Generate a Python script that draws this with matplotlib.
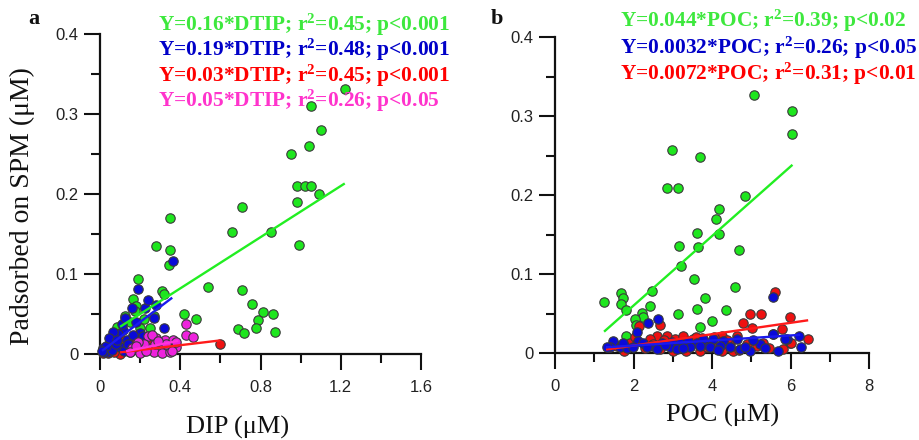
import matplotlib
matplotlib.use("Agg")
import matplotlib.pyplot as plt
from matplotlib.ticker import FixedLocator

plt.rcParams["mathtext.fontset"] = "custom"
plt.rcParams["mathtext.bf"] = "Liberation Serif:bold"
plt.rcParams["mathtext.rm"] = "Liberation Serif:bold"
plt.rcParams["mathtext.default"] = "bf"

# ---------------- Panel a: P adsorbed on SPM vs DIP ----------------
a_green_x = [1.22, 1.05, 1.10, 1.04, 0.95, 0.98, 1.02, 1.05, 1.09, 0.98, 0.71, 0.66,
             0.85, 0.99, 0.35, 0.28, 0.35, 0.344, 0.19, 0.31, 0.32, 0.54, 0.71, 0.163,
             0.76, 0.81, 0.86, 0.42, 0.48, 0.79, 0.78, 0.69, 0.72, 0.87, 0.18, 0.125,
             0.083, 0.15, 0.20, 0.25, 0.175, 0.22, 0.27]
a_green_y = [0.331, 0.310, 0.280, 0.260, 0.250, 0.210, 0.210, 0.210, 0.200, 0.190, 0.184, 0.152,
             0.152, 0.136, 0.170, 0.135, 0.130, 0.111, 0.094, 0.079, 0.075, 0.084, 0.080, 0.069,
             0.062, 0.053, 0.050, 0.050, 0.044, 0.042, 0.033, 0.031, 0.026, 0.027, 0.060, 0.047,
             0.034, 0.040, 0.033, 0.032, 0.054, 0.044, 0.047]

a_red_x = [0.60, 0.017, 0.10, 0.18, 0.15, 0.116, 0.04, 0.07, 0.13, 0.22, 0.25, 0.166]
a_red_y = [0.0125, 0.001, 0.000, 0.011, 0.003, 0.018, 0.001, 0.002, 0.006, 0.004, 0.015, 0.018]

a_blue_x = [0.362, 0.19, 0.158, 0.224, 0.28, 0.27, 0.32, 0.20, 0.116, 0.075, 0.05, 0.017,
            0.04, 0.10, 0.133, 0.166, 0.216, 0.02, 0.06, 0.08, 0.09, 0.12, 0.14, 0.03,
            0.01, 0.18, 0.24, 0.11, 0.065, 0.045, 0.085, 0.125]
a_blue_y = [0.116, 0.081, 0.057, 0.057, 0.061, 0.045, 0.033, 0.026, 0.030, 0.020, 0.013, 0.007,
            0.003, 0.009, 0.018, 0.024, 0.022, 0.002, 0.005, 0.012, 0.025, 0.004, 0.012, 0.010,
            0.004, 0.040, 0.068, 0.038, 0.028, 0.020, 0.017, 0.045]

a_mag_x = [0.24, 0.28, 0.324, 0.365, 0.21, 0.25, 0.30, 0.34, 0.38, 0.20, 0.27, 0.31,
           0.35, 0.22, 0.16, 0.19, 0.274, 0.33, 0.38, 0.43, 0.43, 0.465, 0.26, 0.15,
           0.23, 0.29, 0.36, 0.18]
a_mag_y = [0.022, 0.020, 0.018, 0.0175, 0.009, 0.007, 0.009, 0.008, 0.009, 0.001, 0.002, 0.001,
           0.003, 0.013, 0.007, 0.015, 0.013, 0.013, 0.015, 0.0375, 0.024, 0.021, 0.024, 0.003,
           0.004, 0.016, 0.004, 0.010]

# fitted lines: slope, intercept, x-range
a_fits = {
    "green": (0.16, 0.018, 0.10, 1.22),
    "blue": (0.19, 0.002, 0.01, 0.36),
    "red": (0.03, -0.001, 0.10, 0.60),
    "magenta": (0.05, -0.003, 0.13, 0.39),
}
a_labels = ["Y=0.16*DTIP; r$^2$=0.45; p<0.001",
            "Y=0.19*DTIP; r$^2$=0.48; p<0.001",
            "Y=0.03*DTIP; r$^2$=0.45; p<0.001",
            "Y=0.05*DTIP; r$^2$=0.26; p<0.05"]

# ---------------- Panel b: P adsorbed on SPM vs POC ----------------
b_green_x = [5.07, 6.05, 6.05, 2.99, 3.70, 2.85, 3.13, 4.85, 4.18, 4.10, 3.61, 4.18,
             3.17, 3.65, 4.68, 3.21, 2.46, 3.55, 4.59, 1.68, 1.72, 1.68, 1.81, 1.25,
             2.42, 3.82, 3.13, 3.61, 4.35, 2.21, 2.23, 2.04, 2.06, 3.99, 3.69, 1.81]
b_green_y = [0.327, 0.306, 0.2775, 0.2575, 0.2475, 0.209, 0.209, 0.199, 0.1825, 0.169, 0.152, 0.151,
             0.135, 0.134, 0.130, 0.110, 0.079, 0.094, 0.084, 0.076, 0.070, 0.0625, 0.054, 0.064,
             0.060, 0.070, 0.050, 0.056, 0.054, 0.051, 0.045, 0.0425, 0.035, 0.041, 0.033, 0.022]

b_red_x = [5.61, 2.15, 2.68, 2.59, 2.85, 3.06, 3.27, 3.52, 3.74, 3.95, 4.25, 4.46,
           4.80, 4.97, 5.24, 5.01, 4.88, 4.54, 4.25, 5.78, 5.56, 5.99, 5.99, 6.44,
           2.68, 3.01, 3.35, 3.69, 2.42, 1.91, 1.57, 3.86, 4.63, 5.31, 5.14, 6.01,
           2.30, 2.95, 3.45, 4.10, 4.70, 5.45, 5.80, 1.75, 2.50, 3.15, 3.60, 4.05,
           4.38, 2.05, 2.78, 3.30]
b_red_y = [0.077, 0.034, 0.036, 0.022, 0.022, 0.0175, 0.022, 0.0175, 0.0195, 0.013, 0.022, 0.011,
           0.038, 0.049, 0.050, 0.032, 0.011, 0.003, 0.003, 0.030, 0.024, 0.045, 0.013, 0.0175,
           0.005, 0.003, 0.003, 0.003, 0.0175, 0.013, 0.009, 0.007, 0.022, 0.013, 0.009, 0.0125,
           0.006, 0.010, 0.009, 0.006, 0.004, 0.006, 0.005, 0.003, 0.012, 0.012, 0.020, 0.020,
           0.016, 0.020, 0.016, 0.008]

b_blue_x = [5.55, 1.49, 1.40, 1.66, 1.83, 2.08, 2.12, 2.38, 2.63, 1.99, 2.25, 2.46,
            2.72, 2.97, 3.18, 3.40, 3.61, 3.82, 4.03, 4.29, 4.63, 4.97, 5.22, 5.56,
            5.69, 5.90, 6.22, 6.26, 2.93, 2.59, 3.44, 3.95, 4.46, 4.71, 2.34, 1.74,
            3.10, 3.78, 4.20, 1.33, 5.86, 5.35, 2.80, 3.25, 3.70, 4.15, 4.85, 5.05]
b_blue_y = [0.071, 0.015, 0.007, 0.007, 0.006, 0.026, 0.015, 0.038, 0.0425, 0.007, 0.013, 0.009,
            0.013, 0.014, 0.013, 0.015, 0.013, 0.011, 0.0175, 0.015, 0.0175, 0.003, 0.011, 0.024,
            0.003, 0.0175, 0.021, 0.008, 0.007, 0.005, 0.007, 0.007, 0.007, 0.005, 0.007, 0.013,
            0.005, 0.0175, 0.009, 0.008, 0.0175, 0.006, 0.010, 0.006, 0.009, 0.004, 0.008, 0.016]

b_fits = {
    "green": (0.044, -0.028, 1.25, 6.05),
    "red": (0.0072, -0.005, 1.30, 6.45),
    "blue": (0.0032, 0.003, 1.30, 6.25),
}
b_labels = ["Y=0.044*POC; r$^2$=0.39; p<0.02",
            "Y=0.0032*POC; r$^2$=0.26; p<0.05",
            "Y=0.0072*POC; r$^2$=0.31; p<0.01"]

# ---------------- styling ----------------
FILL = {"green": "#1ee61e", "blue": "#0a0ad8", "red": "#ee1111", "magenta": "#ee22dd"}
LINE = {"green": "#22ee22", "blue": "#1a1aee", "red": "#ff1a1a", "magenta": "#ff33dd"}
TEXT = {"green": "#3de83d", "blue": "#0000c8", "red": "#ff0000", "magenta": "#ff33cc"}
SANS = "Liberation Sans"
SERIF = "Liberation Serif"

W, H = 919, 440
fig = plt.figure(figsize=(W / 100, H / 100), dpi=100)


def px_axes(x0, y_bottom, x1, y_top):
    return fig.add_axes([x0 / W, 1 - y_bottom / H, (x1 - x0) / W, (y_bottom - y_top) / H])


def style_axes(ax, xmajor, xlabels, xminor, ymajor, ylabels, yminor):
    for s in ("top", "right"):
        ax.spines[s].set_visible(False)
    for s in ("left", "bottom"):
        ax.spines[s].set_linewidth(1.6)
        ax.spines[s].set_color("#111111")
    ax.xaxis.set_major_locator(FixedLocator(xmajor))
    ax.xaxis.set_minor_locator(FixedLocator(xminor))
    ax.yaxis.set_major_locator(FixedLocator(ymajor))
    ax.yaxis.set_minor_locator(FixedLocator(yminor))
    ax.set_xticklabels(xlabels, fontfamily=SANS, fontsize=12, color="#222222")
    ax.set_yticklabels(ylabels, fontfamily=SANS, fontsize=12, color="#222222")
    ax.tick_params(axis="both", which="major", direction="out", length=11.5, width=1.5,
                   color="#111111")
    ax.tick_params(axis="both", which="minor", direction="out", length=6.5, width=1.5,
                   color="#111111")
    ax.tick_params(axis="x", which="major", pad=7)
    ax.tick_params(axis="y", which="major", pad=4)


def scatter(ax, xs, ys, key, z):
    ax.scatter(xs, ys, s=46, c=FILL[key], edgecolors="#3a3a3a", linewidths=0.8,
               zorder=z, clip_on=False)


def fit_line(ax, key, fit):
    k, b, x0, x1 = fit
    ax.plot([x0, x1], [k * x0 + b, k * x1 + b], color=LINE[key], lw=1.7, zorder=10,
            solid_capstyle="butt", clip_on=False)


# panel a
axa = px_axes(100, 354, 421, 34)
axa.set_xlim(0, 1.6)
axa.set_ylim(0, 0.4)
style_axes(axa, [0, 0.4, 0.8, 1.2, 1.6], ["0", "0.4", "0.8", "1.2", "1.6"],
           [0.2, 0.6, 1.0, 1.4],
           [0, 0.1, 0.2, 0.3, 0.4], ["0", "0.1", "0.2", "0.3", "0.4"],
           [0.05, 0.15, 0.25, 0.35])
scatter(axa, a_green_x, a_green_y, "green", 3)
scatter(axa, a_red_x, a_red_y, "red", 4)
scatter(axa, a_blue_x, a_blue_y, "blue", 5)
scatter(axa, a_mag_x, a_mag_y, "magenta", 6)
for key in ("green", "blue", "red", "magenta"):
    fit_line(axa, key, a_fits[key])

# panel b
axb = px_axes(555, 353, 869, 37)
axb.set_xlim(0, 8)
axb.set_ylim(0, 0.4)
style_axes(axb, [0, 2, 4, 6, 8], ["0", "2", "4", "6", "8"], [1, 3, 5, 7],
           [0, 0.1, 0.2, 0.3, 0.4], ["0", "0.1", "0.2", "0.3", "0.4"],
           [0.05, 0.15, 0.25, 0.35])
scatter(axb, b_green_x, b_green_y, "green", 3)
scatter(axb, b_red_x, b_red_y, "red", 4)
scatter(axb, b_blue_x, b_blue_y, "blue", 5)
for key in ("green", "red", "blue"):
    fit_line(axb, key, b_fits[key])


def ftext(x, y, s, **kw):
    fig.text(x / W, 1 - y / H, s, **kw)


# axis titles
ftext(22, 206, "Padsorbed on SPM (\u03bcM)", rotation=90, ha="center", va="center",
      fontfamily=SERIF, fontsize=20, color="#111111")
ftext(238, 427, "DIP (\u03bcM)", ha="center", va="center", fontfamily=SERIF, fontsize=19,
      color="#111111")
ftext(723, 415, "POC (\u03bcM)", ha="center", va="center", fontfamily=SERIF, fontsize=19,
      color="#111111")

# panel letters
ftext(34, 19, "a", ha="center", va="center", fontfamily=SERIF, fontsize=16,
      fontweight="bold", color="#111111")
ftext(497, 19, "b", ha="center", va="center", fontfamily=SERIF, fontsize=16,
      fontweight="bold", color="#111111")

# regression equations
for lab, key, yc in zip(a_labels, ["green", "blue", "red", "magenta"], [25, 50, 76, 101]):
    ftext(158, yc, lab, ha="left", va="center", fontfamily=SERIF, fontsize=15.4,
          fontweight="bold", color=TEXT[key])
for lab, key, yc in zip(b_labels, ["green", "blue", "red"], [21, 47.5, 74]):
    ftext(620, yc, lab, ha="left", va="center", fontfamily=SERIF, fontsize=15.4,
          fontweight="bold", color=TEXT[key])

fig.savefig("out.png", dpi=100)
